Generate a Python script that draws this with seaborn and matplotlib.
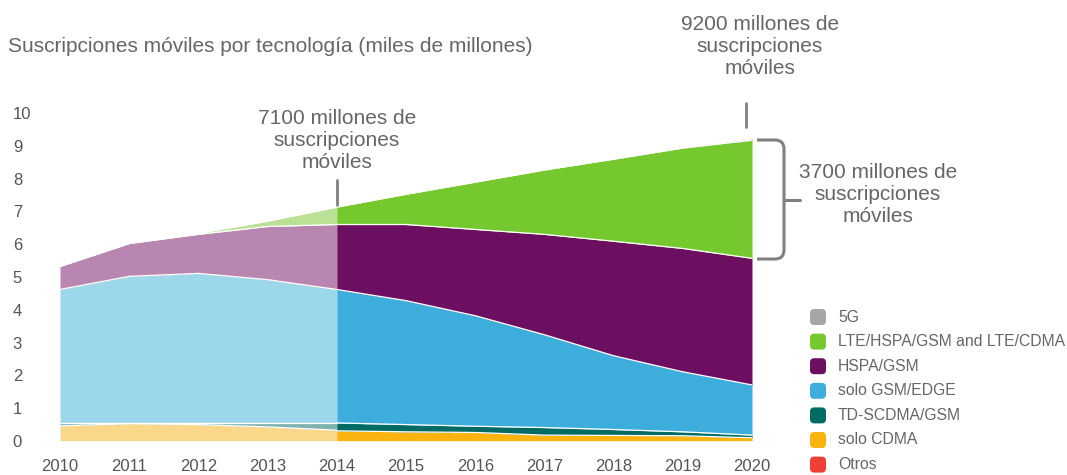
import numpy as np
import matplotlib
matplotlib.use("Agg")
import matplotlib.pyplot as plt
import seaborn as sns
from matplotlib.patches import FancyBboxPatch, PathPatch
from matplotlib.lines import Line2D
from matplotlib.path import Path

# ---------------- data ----------------
years_hist = [2010, 2011, 2012, 2013, 2014]
years_fc = [2014, 2015, 2016, 2017, 2018, 2019, 2020]

series_names = ["Otros", "solo CDMA", "TD-SCDMA/GSM", "solo GSM/EDGE",
                "HSPA/GSM", "LTE/HSPA/GSM and LTE/CDMA", "5G"]

# historical (2010-2014), billions
otros_h = [0.01, 0.01, 0.01, 0.01, 0.01]
cdma_h = [0.45, 0.52, 0.49, 0.42, 0.32]
td_h = [0.10, 0.03, 0.06, 0.13, 0.23]
gsm_h = [4.06, 4.46, 4.55, 4.36, 4.06]
hspa_h = [0.70, 1.00, 1.19, 1.62, 1.98]
lte_h = [0.00, 0.00, 0.03, 0.16, 0.53]
g5_h = [0.00, 0.00, 0.00, 0.00, 0.00]

# forecast (2014-2020), billions
otros_f = [0.01, 0.01, 0.01, 0.01, 0.01, 0.01, 0.01]
cdma_f = [0.30, 0.27, 0.25, 0.17, 0.16, 0.15, 0.09]
td_f = [0.24, 0.22, 0.19, 0.23, 0.18, 0.12, 0.08]
gsm_f = [4.07, 3.78, 3.37, 2.83, 2.25, 1.83, 1.53]
hspa_f = [1.98, 2.32, 2.63, 3.06, 3.49, 3.76, 3.86]
lte_f = [0.53, 0.92, 1.44, 1.96, 2.50, 3.06, 3.60]
g5_f = [0.00, 0.00, 0.00, 0.00, 0.00, 0.01, 0.04]

colors_fc = ["#ee4036", "#fbb40f", "#006a63", "#3daedb", "#6c0f60", "#76c82f", "#a6a6a6"]
colors_hist = ["#f7a09b", "#fbd78a", "#7fb2ae", "#9dd7ea", "#b886b1", "#bae195", "#d3d3d3"]

title = "Suscripciones móviles por tecnología (miles de millones)"
note_2014 = "7100 millones de\nsuscripciones\nmóviles"
note_2020 = "9200 millones de\nsuscripciones\nmóviles"
note_lte = "3700 millones de\nsuscripciones\nmóviles"
y_ticks = [0, 1, 2, 3, 4, 5, 6, 7, 8, 9, 10]
x_ticks = [2010, 2011, 2012, 2013, 2014, 2015, 2016, 2017, 2018, 2019, 2020]

# ---------------- style ----------------
sns.set_theme(style="white")
plt.rcParams["font.family"] = ["Liberation Sans", "DejaVu Sans"]

W, H = 1067, 475
fig = plt.figure(figsize=(W / 100, H / 100), dpi=100)

def fx(x):
    return x / W

def fy(y):
    return 1 - y / H

ax = fig.add_axes([fx(60), fy(441), fx(752) - fx(60), fy(113) - fy(441)])

hist = [otros_h, cdma_h, td_h, gsm_h, hspa_h, lte_h, g5_h]
fc = [otros_f, cdma_f, td_f, gsm_f, hspa_f, lte_f, g5_f]

ax.stackplot(years_hist, *hist, colors=colors_hist, linewidth=0)
ax.stackplot(years_fc, *fc, colors=colors_fc, linewidth=0)

# thin white separators between layers
for yrs, data in ((years_hist, hist), (years_fc, fc)):
    cum = np.cumsum(np.array(data), axis=0)
    for row in cum[1:-1]:
        ax.plot(yrs, row, color="white", lw=0.9, solid_capstyle="butt")

ax.set_xlim(2010, 2020)
ax.set_ylim(0, 10)
ax.set_xticks(x_ticks)
ax.set_yticks(y_ticks)
ax.set_xticklabels([str(t) for t in x_ticks])
ax.set_yticklabels([str(t) for t in y_ticks])
ax.tick_params(axis="both", length=0, labelsize=12, labelcolor="#555555")
ax.tick_params(axis="x", pad=13)
ax.tick_params(axis="y", pad=34)
for lbl in ax.get_yticklabels():
    lbl.set_horizontalalignment("left")
for s in ax.spines.values():
    s.set_visible(False)
ax.grid(False)
ax.set_facecolor("none")

txt_col = "#666666"
line_col = "#808080"

fig.text(fx(8), fy(47), title, fontsize=15, color=txt_col, ha="left", va="center")

fig.text(fx(337), fy(141), note_2014, fontsize=15, color=txt_col, ha="center",
         va="center", linespacing=1.2)
fig.text(fx(760), fy(47), note_2020, fontsize=15, color=txt_col, ha="center",
         va="center", linespacing=1.2)
fig.text(fx(878), fy(195), note_lte, fontsize=15, color=txt_col, ha="center",
         va="center", linespacing=1.2)

fig.add_artist(Line2D([fx(337), fx(337)], [fy(180), fy(205)], color=line_col, lw=2,
                      transform=fig.transFigure))
fig.add_artist(Line2D([fx(746), fx(746)], [fy(103), fy(127)], color=line_col, lw=2,
                      transform=fig.transFigure))

# bracket with rounded corners
r = 9
verts = [(757, 140), (784 - r, 140), (784, 140), (784, 140 + r), (784, 259 - r),
         (784, 259), (784 - r, 259), (757, 259)]
codes = [Path.MOVETO, Path.LINETO, Path.CURVE3, Path.CURVE3, Path.LINETO,
         Path.CURVE3, Path.CURVE3, Path.LINETO]
path = Path([(fx(x), fy(y)) for x, y in verts], codes)
fig.add_artist(PathPatch(path, fill=False, edgecolor=line_col, lw=2.2,
                         transform=fig.transFigure))
fig.add_artist(Line2D([fx(784), fx(800)], [fy(200), fy(200)], color=line_col, lw=2.2,
                      transform=fig.transFigure))

# legend (top to bottom: reverse stacking order)
leg_y0, leg_dy = 317, 24.6
for i, (name, col) in enumerate(zip(series_names[::-1], colors_fc[::-1])):
    yc = leg_y0 + i * leg_dy
    box = FancyBboxPatch((fx(810), fy(yc + 8)), fx(16), fy(0) - fy(16),
                         boxstyle="round,pad=0,rounding_size=0.004",
                         facecolor=col, edgecolor="none", transform=fig.transFigure,
                         mutation_aspect=W / H)
    fig.add_artist(box)
    fig.text(fx(838), fy(yc), name, fontsize=11.3, color=txt_col, ha="left", va="center")

fig.savefig("out.png", dpi=100)
